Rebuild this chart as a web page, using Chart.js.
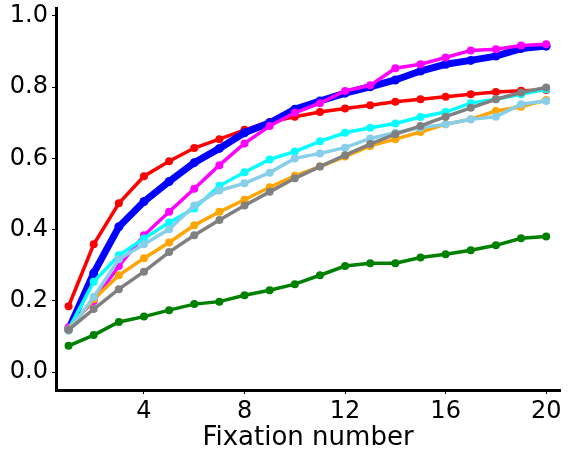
<!DOCTYPE html>
<html>
<head>
<meta charset="utf-8">
<script src="https://cdn.jsdelivr.net/npm/chart.js@4"></script>
<style>
html,body{margin:0;padding:0;background:#fff;}
#wrap{width:568px;height:460px;}
</style>
</head>
<body>
<div id="wrap"><canvas id="c" width="568" height="460"></canvas></div>
<script>
const fixations = [1,2,3,4,5,6,7,8,9,10,11,12,13,14,15,16,17,18,19,20];
const xTickValues = [4,8,12,16,20];
const yTickValues = [0,0.2,0.4,0.6,0.8,1.0];
const xLabel = 'Fixation number';

const redSeries = [0.185,0.359,0.474,0.55,0.592,0.629,0.654,0.68,0.702,0.717,0.73,0.74,0.749,0.759,0.766,0.773,0.78,0.786,0.79,0.792];
const blueSeries = [0.12,0.278,0.408,0.479,0.535,0.588,0.628,0.672,0.7,0.738,0.761,0.783,0.801,0.82,0.845,0.864,0.875,0.887,0.908,0.915];
const magentaSeries = [0.126,0.2,0.298,0.384,0.45,0.515,0.581,0.642,0.691,0.728,0.755,0.789,0.805,0.853,0.864,0.883,0.903,0.906,0.917,0.92];
const cyanSeries = [0.12,0.254,0.328,0.375,0.42,0.459,0.523,0.561,0.597,0.619,0.648,0.672,0.686,0.698,0.716,0.73,0.755,0.766,0.78,0.794];
const skyblueSeries = [0.116,0.211,0.317,0.359,0.401,0.468,0.51,0.53,0.56,0.6,0.614,0.63,0.656,0.672,0.686,0.696,0.71,0.717,0.752,0.761];
const orangeSeries = [0.12,0.205,0.272,0.32,0.364,0.412,0.45,0.484,0.519,0.551,0.577,0.605,0.635,0.654,0.674,0.696,0.71,0.733,0.745,0.764];
const graySeries = [0.119,0.177,0.233,0.282,0.337,0.384,0.427,0.468,0.506,0.544,0.577,0.609,0.64,0.668,0.691,0.717,0.742,0.766,0.785,0.799];
const greenSeries = [0.074,0.104,0.141,0.156,0.174,0.191,0.198,0.216,0.23,0.247,0.272,0.298,0.306,0.306,0.322,0.331,0.342,0.356,0.376,0.381];

function pts(arr){ return arr.map((v,i)=>({x:fixations[i], y:v})); }
function ds(arr, color, lw, r){
  return {data: pts(arr), borderColor: color, backgroundColor: color,
    pointBackgroundColor: color, pointBorderColor: color, borderWidth: lw,
    pointRadius: r, pointBorderWidth: 0, pointHoverRadius: r, tension: 0, fill: false};
}
// first dataset is drawn on top in Chart.js
const datasets = [
  ds(graySeries, '#808080', 3.5, 4),
  ds(skyblueSeries, '#87ceeb', 3.5, 4),
  ds(orangeSeries, '#ffa500', 3.5, 4),
  ds(cyanSeries, '#00ffff', 3.5, 4),
  ds(magentaSeries, '#ff00ff', 3.5, 4),
  ds(blueSeries, '#0000ff', 7, 4.5),
  ds(redSeries, '#ff0000', 3.5, 4),
  ds(greenSeries, '#008000', 3.5, 4)
];

const tickFont = {family: "'DejaVu Sans', sans-serif", size: 24};
const titleFont = {family: "'DejaVu Sans', sans-serif", size: 26};

new Chart(document.getElementById('c'), {
  type: 'line',
  data: {datasets},
  options: {
    responsive: false,
    animation: false,
    layout: {padding: {top: 8, right: 8, left: 0, bottom: 0}},
    plugins: {legend: {display: false}, tooltip: {enabled: false}},
    scales: {
      x: {
        type: 'linear', min: 0.5, max: 20.55,
        afterBuildTicks: s => { s.ticks = xTickValues.map(v=>({value:v})); },
        afterFit: s => { s.height = 70; s.paddingLeft = 0; s.paddingRight = 0; },
        ticks: {color: '#000', font: tickFont, padding: 3, maxRotation: 0,
          callback: v => String(v)},
        grid: {display: true, drawOnChartArea: false, drawTicks: true, tickLength: 4, color: '#000', lineWidth: 1},
        border: {display: true, color: '#000', width: 3},
        title: {display: true, text: xLabel, color: '#000', font: titleFont, padding: {top: 2, bottom: 6}}
      },
      y: {
        type: 'linear', min: -0.05, max: 1.022,
        afterBuildTicks: s => { s.ticks = yTickValues.map(v=>({value:v})); },
        afterFit: s => { s.width = 56; s.paddingTop = 0; s.paddingBottom = 0; },
        ticks: {color: '#000', font: tickFont, padding: 4, callback: v => Number(v).toFixed(1)},
        grid: {display: true, drawOnChartArea: false, drawTicks: true, tickLength: 4, color: '#000', lineWidth: 1},
        border: {display: true, color: '#000', width: 3}
      }
    }
  }
});
</script>
</body>
</html>
